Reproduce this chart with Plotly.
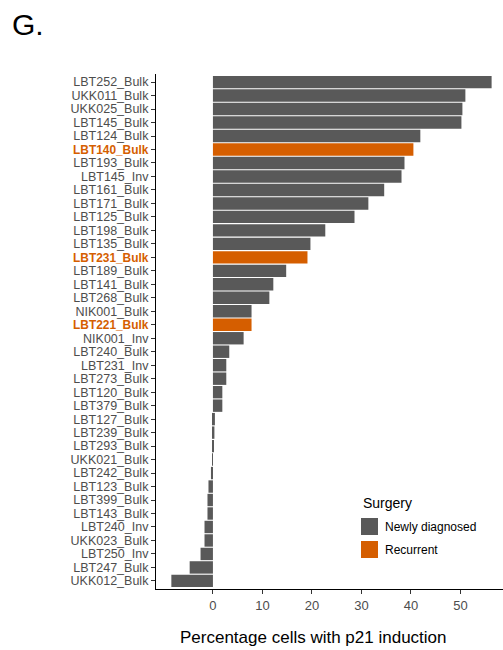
import plotly.graph_objects as go

# Samples, top to bottom, with their p21 induction (%) and surgery type
samples = [
    "LBT252_Bulk", "UKK011_Bulk", "UKK025_Bulk", "LBT145_Bulk", "LBT124_Bulk",
    "LBT140_Bulk", "LBT193_Bulk", "LBT145_Inv", "LBT161_Bulk", "LBT171_Bulk",
    "LBT125_Bulk", "LBT198_Bulk", "LBT135_Bulk", "LBT231_Bulk", "LBT189_Bulk",
    "LBT141_Bulk", "LBT268_Bulk", "NIK001_Bulk", "LBT221_Bulk", "NIK001_Inv",
    "LBT240_Bulk", "LBT231_Inv", "LBT273_Bulk", "LBT120_Bulk", "LBT379_Bulk",
    "LBT127_Bulk", "LBT239_Bulk", "LBT293_Bulk", "UKK021_Bulk", "LBT242_Bulk",
    "LBT123_Bulk", "LBT399_Bulk", "LBT143_Bulk", "LBT240_Inv", "UKK023_Bulk",
    "LBT250_Inv", "LBT247_Bulk", "UKK012_Bulk",
]
p21_pct = [
    56.3, 51.0, 50.4, 50.2, 41.9,
    40.5, 38.7, 38.1, 34.6, 31.4,
    28.6, 22.7, 19.7, 19.1, 14.8,
    12.2, 11.4, 7.8, 7.8, 6.2,
    3.3, 2.7, 2.7, 1.9, 1.9,
    0.4, 0.3, 0.2, -0.1, -0.4,
    -0.9, -1.1, -1.1, -1.7, -1.7,
    -2.5, -4.7, -8.4,
]
recurrent_samples = ["LBT140_Bulk", "LBT231_Bulk", "LBT221_Bulk"]
surgery = ["Recurrent" if s in recurrent_samples else "Newly diagnosed" for s in samples]

surgery_levels = ["Newly diagnosed", "Recurrent"]
surgery_colors = {"Newly diagnosed": "#595959", "Recurrent": "#D55E00"}
x_ticks = [0, 10, 20, 30, 40, 50]

W, H = 503, 650
L, R, T, B = 156, 0, 74, 61
plot_w = W - L - R
plot_h = H - T - B
FONT = "Liberation Sans, Arial, Helvetica, sans-serif"


def px(x, y):
    """Convert page pixel coordinates into paper coordinates."""
    return (x - L) / plot_w, (H - B - y) / plot_h


fig = go.Figure()
for level in surgery_levels:
    idx = [i for i, s in enumerate(surgery) if s == level]
    fig.add_trace(go.Bar(
        y=[samples[i] for i in idx],
        x=[p21_pct[i] for i in idx],
        orientation="h",
        name=level,
        marker=dict(color=surgery_colors[level], line=dict(width=0)),
        width=0.92,
        showlegend=False,
    ))

tick_text = []
for s, g in zip(samples, surgery):
    if g == "Recurrent":
        tick_text.append(
            f"<span style='color:{surgery_colors['Recurrent']};font-size:11.9px'><b>{s}</b></span>")
    else:
        tick_text.append(s)

fig.update_layout(
    width=W, height=H,
    margin=dict(l=L, r=R, t=T, b=B, pad=0),
    plot_bgcolor="white", paper_bgcolor="white",
    barmode="overlay",
    font=dict(family=FONT, color="#4D4D4D"),
    xaxis=dict(
        range=[-11.5, 58.6],
        tickvals=x_ticks,
        ticktext=[str(v) for v in x_ticks],
        showgrid=False, zeroline=False,
        showline=True, linecolor="black", linewidth=1.2,
        ticks="outside", ticklen=4, tickcolor="#333333", tickwidth=1,
        tickfont=dict(size=13, color="#4D4D4D"),
    ),
    yaxis=dict(
        categoryorder="array", categoryarray=samples,
        tickvals=samples, ticktext=tick_text,
        range=[len(samples) - 0.4, -0.6],
        showgrid=False, zeroline=False,
        showline=True, linecolor="black", linewidth=1.2,
        ticks="outside", ticklen=4, tickcolor="#333333", tickwidth=1,
        tickfont=dict(size=12.5, color="#4D4D4D"),
    ),
)

# Axis title and panel tag
ax_x, ax_y = px(313, 637)
fig.add_annotation(text="Percentage cells with p21 induction", x=ax_x, y=ax_y,
                   xref="paper", yref="paper", xanchor="center", yanchor="middle",
                   showarrow=False, font=dict(size=17, color="black", family=FONT))
g_x, g_y = px(10, 24)
fig.add_annotation(text="G.", x=g_x, y=g_y, xref="paper", yref="paper",
                   xanchor="left", yanchor="middle", showarrow=False,
                   font=dict(size=30, color="black", family=FONT))

# Legend for surgery type
lt_x, lt_y = px(361, 503)
fig.add_annotation(text="Surgery", x=lt_x, y=lt_y, xref="paper", yref="paper",
                   xanchor="left", yanchor="middle", showarrow=False,
                   font=dict(size=14, color="black", family=FONT))
for k, level in enumerate(surgery_levels):
    top = 518 + k * 23
    x0, y0 = px(361, top + 17)
    x1, y1 = px(378, top)
    fig.add_shape(type="rect", xref="paper", yref="paper", x0=x0, y0=y0, x1=x1, y1=y1,
                  fillcolor=surgery_colors[level], line=dict(width=0))
    lx, ly = px(383, top + 8.5)
    fig.add_annotation(text=level, x=lx, y=ly, xref="paper", yref="paper",
                       xanchor="left", yanchor="middle", showarrow=False,
                       font=dict(size=12, color="black", family=FONT))

fig.write_html("out.html")
